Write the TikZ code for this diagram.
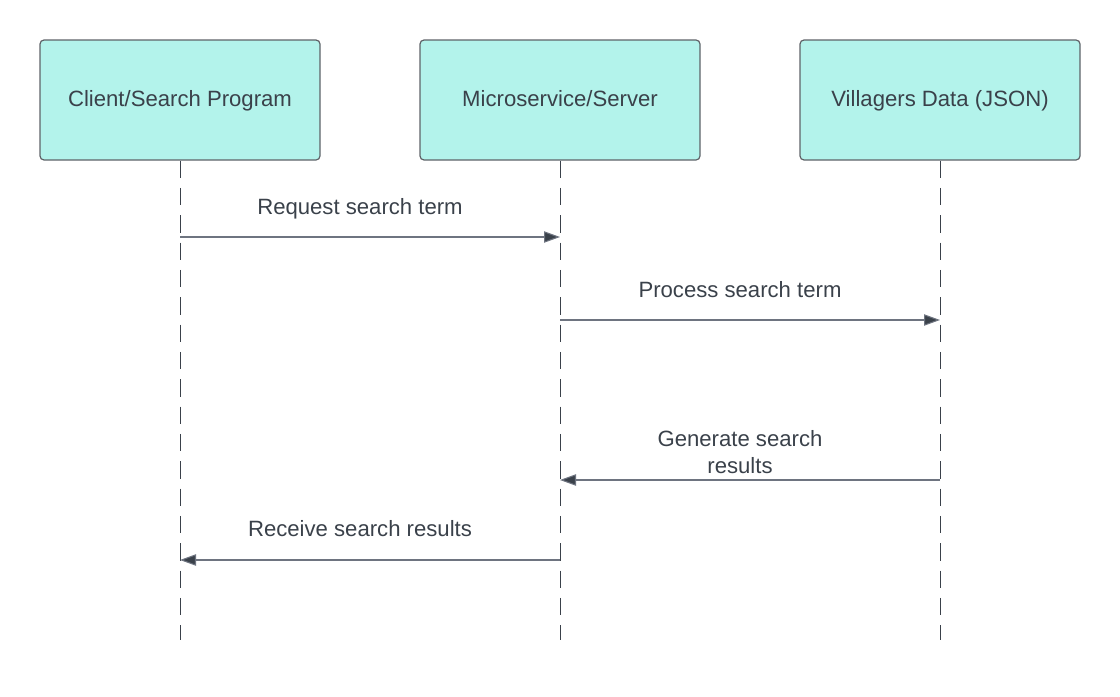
\documentclass[tikz,border=0pt]{standalone}
\usepackage{fontspec}
\setmainfont{Liberation Sans}
\usetikzlibrary{arrows.meta}
\definecolor{boxfill}{HTML}{B3F3EB}
\definecolor{boxdraw}{HTML}{5F6368}
\definecolor{txt}{HTML}{3A414A}
\definecolor{msgline}{HTML}{6E7480}
\begin{document}
\begin{tikzpicture}[x=0.75pt,y=-0.75pt,
  actor/.style={draw=boxdraw,fill=boxfill,line width=0.9pt,rounded corners=3pt,
    minimum width=210pt,minimum height=90pt,inner sep=0pt,
    text height=12.5pt,text depth=3.5pt,
    font=\fontsize{16.6pt}{20pt}\selectfont,text=txt},
  lifeline/.style={draw=txt,line width=0.7pt,dash pattern=on 13pt off 7.5pt},
  msg/.style={draw=msgline,line width=0.8pt,-{Triangle[length=12pt,width=8.5pt,fill=txt]}},
  lbl/.style={font=\fontsize{16.6pt}{20pt}\selectfont,text=txt,align=center,inner sep=0pt}]
\useasboundingbox (0,0) rectangle (1120,696);
\node[actor] (c) at (180,100) {Client/Search Program};
\node[actor] (s) at (560,100) {Microservice/Server};
\node[actor] (v) at (940,100) {Villagers Data (JSON)};
\coordinate (ce) at (180,640);
\coordinate (se) at (560,640);
\coordinate (ve) at (940,640);
\draw[lifeline] (c.south) -- (ce);
\draw[lifeline] (s.south) -- (se);
\draw[lifeline] (v.south) -- (ve);
\coordinate (c1) at (180,237);
\coordinate (s1) at (560,237);
\coordinate (s2) at (560,320);
\coordinate (v2) at (940,320);
\coordinate (v3) at (940,480);
\coordinate (s3) at (560,480);
\coordinate (s4) at (560,560);
\coordinate (c4) at (180,560);
\draw[msg] (c1) -- (s1);
\draw[msg] (s2) -- (v2);
\draw[msg] (v3) -- (s3);
\draw[msg] (s4) -- (c4);
\node[lbl] (l1) at (360,209) {Request search term};
\node[lbl] (l2) at (740,290) {Process search term};
\node[lbl] (l3) at (740,452) {Generate search\\results};
\node[lbl] (l4) at (360,529) {Receive search results};
\end{tikzpicture}
\end{document}
